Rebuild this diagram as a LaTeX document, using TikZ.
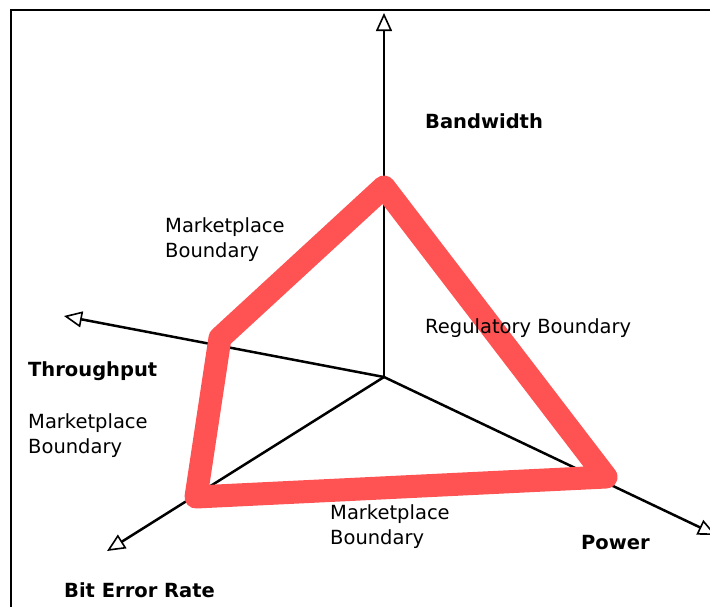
\documentclass[tikz,border=0pt]{standalone}
\usepackage{fontspec}
\setmainfont{DejaVu Sans}
\usetikzlibrary{arrows.meta}
\definecolor{boundred}{RGB}{255,82,82}
\tikzset{
  axis/.style={line width=2.5pt, -{Triangle[open, length=18pt, width=16pt, line width=1.6pt]}},
  boundary/.style={draw=boundred, line width=23pt, line join=round},
  frameline/.style={line width=2.6pt},
  axlabel/.style={anchor=base west, inner sep=0pt, font=\fontsize{19.5}{25}\selectfont\bfseries},
  bdlabel/.style={anchor=base west, inner sep=0pt, align=left, font=\fontsize{19.5}{25}\selectfont}
}
\begin{document}
\begin{tikzpicture}[x=1pt, y=-1pt]
  \useasboundingbox (0,0) rectangle (710,606);
  % outer frame
  \draw[frameline] (11,610) -- (11,10) -- (715,10);

  % origin and axis ends
  \coordinate (O) at (384,377);
  \coordinate (bw) at (384,13);
  \coordinate (tp) at (64,316);
  \coordinate (ber) at (107,551);
  \coordinate (pw) at (716,535);

  \draw[axis] (O) -- (bw);
  \draw[axis] (O) -- (tp);
  \draw[axis] (O) -- (ber);
  \draw[axis] (O) -- (pw);

  % boundary polygon
  \coordinate (vt) at (384,187);
  \coordinate (vl) at (220,338);
  \coordinate (vb) at (196,497);
  \coordinate (vr) at (606,477);
  \draw[boundary] (vt) -- (vl) -- (vb) -- (vr) -- cycle;

  % axis labels
  \node[axlabel] (lbw) at (425,128) {Bandwidth};
  \node[axlabel] (ltp) at (28,376) {Throughput};
  \node[axlabel] (lpw) at (581,549) {Power};
  \node[axlabel] (lber) at (64,597) {Bit Error Rate};

  % boundary labels (base anchor sits on the last line)
  \node[bdlabel] (mb1) at (165,257) {Marketplace\\Boundary};
  \node[bdlabel] (rb) at (425,333) {Regulatory Boundary};
  \node[bdlabel] (mb2) at (28,453) {Marketplace\\Boundary};
  \node[bdlabel] (mb3) at (330,544) {Marketplace\\Boundary};
\end{tikzpicture}
\end{document}
